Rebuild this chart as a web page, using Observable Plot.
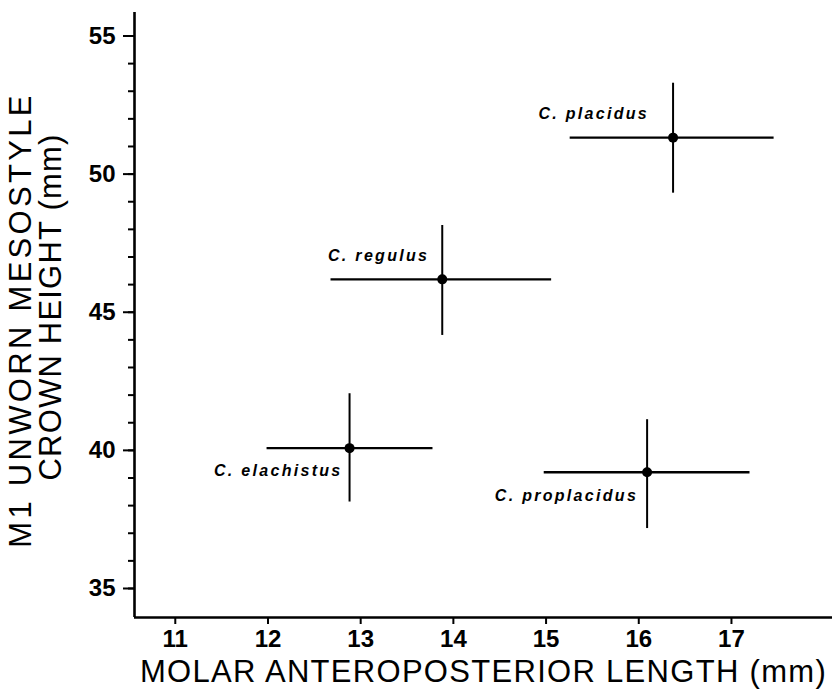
<!DOCTYPE html>
<html>
<head>
<meta charset="utf-8">
<script src="https://cdn.jsdelivr.net/npm/d3@7"></script>
<script src="https://cdn.jsdelivr.net/npm/@observablehq/plot@0.6"></script>
<style>
  html, body { margin: 0; padding: 0; background: #fff; }
</style>
</head>
<body>
<div id="chart"></div>
<script>
// ---- data ----
const species     = ["C. elachistus", "C. regulus", "C. placidus", "C. proplacidus"];
const lengthMean  = [12.88, 13.88, 16.37, 16.09];
const lengthLow   = [11.99, 12.68, 15.26, 14.98];
const lengthHigh  = [13.78, 15.06, 17.46, 17.20];
const heightMean  = [40.08, 46.19, 51.32, 39.21];
const heightLow   = [38.13, 44.16, 49.31, 37.17];
const heightHigh  = [42.05, 48.14, 53.29, 41.11];
const xTicks      = [11, 12, 13, 14, 15, 16, 17];
const yTicks      = [35, 40, 45, 50, 55];
const yMinorTicks = [35, 36, 37, 38, 39, 40, 41, 42, 43, 44, 45, 46, 47, 48, 49, 50, 51, 52, 53, 54, 55];
const xTitle = "MOLAR ANTEROPOSTERIOR LENGTH (mm)";
const yTitleLines = ["M1 UNWORN MESOSTYLE", "CROWN HEIGHT (mm)"];

// ---- scale / layout settings ----
const xDomain = [10.56, 18.09];
const yDomain = [33.95, 55.85];
// label placement relative to each point (pixels)
const labelOffsets = [
  {dx: -7,  dy: 23},
  {dx: -13, dy: -23},
  {dx: -24, dy: -24},
  {dx: -9,  dy: 24}
];
const yTitlePlacement = [{dx: -113, dy: 5}, {dx: -83, dy: -8}];

const rows = species.map((s, i) => ({
  species: s,
  x: lengthMean[i], x1: lengthLow[i], x2: lengthHigh[i],
  y: heightMean[i], y1: heightLow[i], y2: heightHigh[i]
}));

const font = "'Liberation Sans', Arial, Helvetica, sans-serif";

const chart = Plot.plot({
  width: 832,
  height: 696,
  marginLeft: 134,
  marginRight: 0,
  marginTop: 12,
  marginBottom: 79,
  style: {fontFamily: font, background: "white", color: "black", overflow: "visible"},
  x: {domain: xDomain},
  y: {domain: yDomain},
  marks: [
    // axis lines
    Plot.ruleX([xDomain[0]], {stroke: "black", strokeWidth: 2.6}),
    Plot.ruleY([yDomain[0]], {stroke: "black", strokeWidth: 2.6}),
    // minor y ticks
    Plot.axisY({ticks: yMinorTicks, tickSize: 6, tickFormat: () => "", label: null, strokeWidth: 2}),
    // major y ticks + labels
    Plot.axisY({ticks: yTicks, tickSize: 11, tickPadding: 8, label: null,
      fontSize: 24, fontWeight: "bold", strokeWidth: 2}),
    // x ticks + labels
    Plot.axisX({ticks: xTicks, tickSize: 7, tickPadding: 5, label: null,
      fontSize: 24, fontWeight: "bold", strokeWidth: 2}),
    // error bars
    Plot.ruleY(rows, {y: "y", x1: "x1", x2: "x2", stroke: "black", strokeWidth: 2.4}),
    Plot.ruleX(rows, {x: "x", y1: "y1", y2: "y2", stroke: "black", strokeWidth: 2}),
    Plot.dot(rows, {x: "x", y: "y", r: 5, fill: "black", stroke: "none"}),
    // species labels
    ...rows.map((r, i) => Plot.text([r], {
      x: "x", y: "y", text: "species",
      dx: labelOffsets[i].dx, dy: labelOffsets[i].dy,
      textAnchor: "end", fontSize: 16, fontWeight: "bold", fontStyle: "italic",
      fill: "black"
    })),
    // axis titles
    Plot.text([xTitle], {text: d => d, frameAnchor: "bottom", dy: 64,
      fontSize: 31, fill: "black"}),
    ...yTitleLines.map((line, i) => Plot.text([line], {text: d => d, frameAnchor: "left",
      textAnchor: "middle", dx: yTitlePlacement[i].dx, dy: yTitlePlacement[i].dy, rotate: -90,
      fontSize: 31, fill: "black"}))
  ]
});

// letter spacing to match the reference's wide typesetting
const spacing = new Map([
  [xTitle, "1.3px"],
  [yTitleLines[0], "3.3px"],
  [yTitleLines[1], "1.2px"],
  ...species.map(s => [s, "2.3px"])
]);
d3.select(chart).selectAll("text").each(function () {
  const s = spacing.get(this.textContent);
  if (s) this.style.letterSpacing = s;
});

document.getElementById("chart").appendChild(chart);
</script>
</body>
</html>
